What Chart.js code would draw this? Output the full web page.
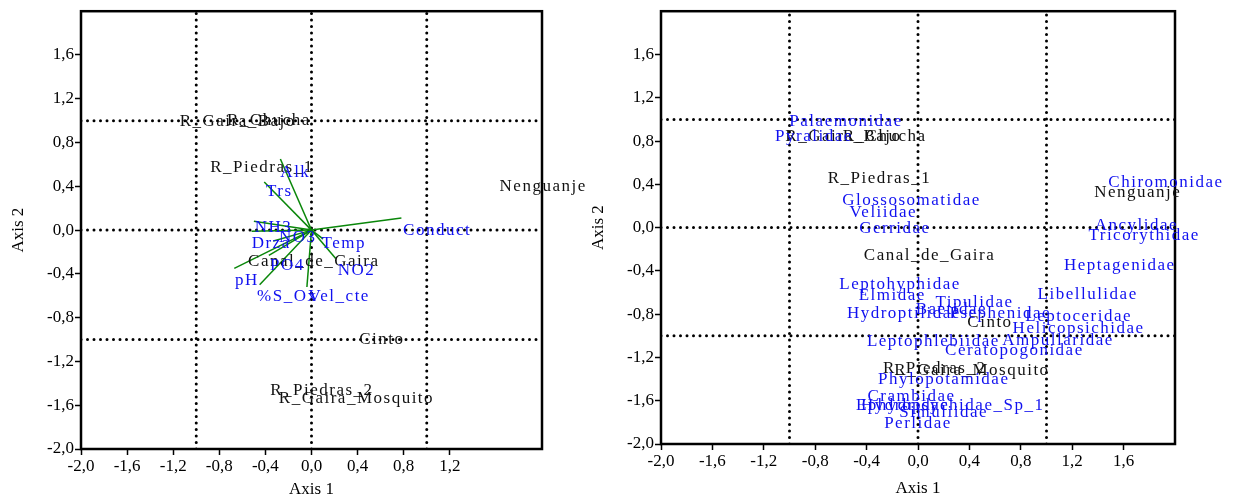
<!DOCTYPE html>
<html>
<head>
<meta charset="utf-8">
<script src="https://cdn.jsdelivr.net/npm/chart.js@4.4.0/dist/chart.umd.min.js"></script>
<style>
  body { margin: 0; background: #fff; }
  canvas { position: absolute; top: 0; }
  #left { left: 0; }
  #right { left: 580px; }
</style>
</head>
<body>
<canvas id="left" width="600" height="504"></canvas>
<canvas id="right" width="654" height="504"></canvas>
<script>
// axis ticks (both panels)
const yTickValues = [-2.0, -1.6, -1.2, -0.8, -0.4, 0.0, 0.4, 0.8, 1.2, 1.6];
const yTickLabels = ['-2,0', '-1,6', '-1,2', '-0,8', '-0,4', '0,0', '0,4', '0,8', '1,2', '1,6'];
const leftXTickValues = [-2.0, -1.6, -1.2, -0.8, -0.4, 0.0, 0.4, 0.8, 1.2];
const leftXTickLabels = ['-2,0', '-1,6', '-1,2', '-0,8', '-0,4', '0,0', '0,4', '0,8', '1,2'];
const rightXTickValues = [-2.0, -1.6, -1.2, -0.8, -0.4, 0.0, 0.4, 0.8, 1.2, 1.6];
const rightXTickLabels = ['-2,0', '-1,6', '-1,2', '-0,8', '-0,4', '0,0', '0,4', '0,8', '1,2', '1,6'];
const refLines = [-1, 0, 1];

// left panel: sites + environmental vectors
const siteNames = ['R_Gaira_Bajo', 'R_Chucha', 'R_Piedras_1', 'Nenguanje', 'Canal_de_Gaira', 'Cinto', 'R_Piedras_2', 'R_Gaira_Mosquito'];
const leftSiteX = [-0.64, -0.37, -0.43, 2.01, 0.02, 0.61, 0.09, 0.39];
const leftSiteY = [0.99, 1.00, 0.57, 0.40, -0.29, -1.00, -1.47, -1.54];

const envNames = ['Alk', 'Trs', 'Conduct', 'NH3', 'Drza', 'NO3', 'Temp', 'PO4', 'NO2', 'pH', '%S_Ox', 'Vel_cte'];
const envLabelX = [-0.14, -0.28, 1.09, -0.33, -0.35, -0.12, 0.28, -0.21, 0.39, -0.56, -0.21, 0.24];
const envLabelY = [0.53, 0.35, 0.00, 0.02, -0.12, -0.07, -0.12, -0.32, -0.37, -0.46, -0.61, -0.61];
const envTipX = [-0.27, -0.41, 0.78, -0.50, -0.52, -0.33, 0.10, -0.37, 0.21, -0.67, -0.45, -0.04];
const envTipY = [0.65, 0.44, 0.11, 0.08, -0.01, -0.10, -0.08, -0.23, -0.26, -0.35, -0.50, -0.52];

// right panel: sites + taxa
const rightSiteX = [-0.58, -0.26, -0.30, 1.71, 0.09, 0.56, 0.13, 0.42];
const rightSiteY = [0.84, 0.84, 0.45, 0.32, -0.26, -0.88, -1.30, -1.32];

const taxaNames = ['Palaemonidae', 'Pyralidae', 'Glossosomatidae', 'Veliidae', 'Gerridae', 'Chiromonidae',
  'Ancylidae', 'Tricorythidae', 'Heptagenidae', 'Leptohyphidae', 'Elmidae', 'Tipulidae', 'Libellulidae',
  'Hydroptilidae', 'Baetidae', 'Psephenidae', 'Leptoceridae', 'Helicopsichidae', 'Leptophlebiidae',
  'Ampullaridae', 'Ceratopogonidae', 'Phylopotamidae', 'Crambidae', 'Ephydridae', 'Hydropsychidae_Sp_1',
  'Simuliidae', 'Perlidae'];
const taxaX = [-0.56, -0.81, -0.05, -0.27, -0.18, 1.93, 1.70, 1.76, 1.57, -0.14, -0.20, 0.44, 1.32,
  -0.11, 0.26, 0.64, 1.25, 1.25, 0.12, 1.09, 0.75, 0.20, -0.05, -0.12, 0.27, 0.20, 0.00];
const taxaY = [0.98, 0.84, 0.25, 0.14, -0.01, 0.42, 0.02, -0.07, -0.35, -0.53, -0.63, -0.69, -0.62,
  -0.79, -0.76, -0.79, -0.82, -0.93, -1.05, -1.04, -1.14, -1.40, -1.56, -1.64, -1.64, -1.71, -1.81];

const FONT = 'Liberation Serif, Times New Roman, serif';
const BLUE = '#1010f0';
const BLACK = '#111111';
const GREEN = '#0a870a';

function pts(xs, ys) {
  return xs.map((x, i) => ({ x: x, y: ys[i] }));
}

function refLineSets() {
  const sets = [];
  refLines.forEach(v => {
    sets.push({ data: [{ x: -2, y: v }, { x: 2, y: v }] });
    sets.push({ data: [{ x: v, y: -2 }, { x: v, y: 2 }] });
  });
  return sets.map(s => Object.assign(s, {
    type: 'line', showLine: true, borderColor: '#000', borderWidth: 3,
    borderDash: [0, 6.5], borderCapStyle: 'round', pointRadius: 0, order: 5
  }));
}

// draws the text labels of datasets that carry a "names" list, plus the frame
const labelPlugin = {
  id: 'labels',
  afterDatasetsDraw(chart) {
    const ctx = chart.ctx;
    const a = chart.chartArea;
    ctx.save();
    ctx.strokeStyle = '#000';
    ctx.lineWidth = 2.5;
    ctx.strokeRect(a.left, a.top, a.right - a.left, a.bottom - a.top);
    ctx.font = '17px ' + FONT;
    ctx.letterSpacing = '1.5px';
    ctx.textAlign = 'center';
    ctx.textBaseline = 'middle';
    chart.data.datasets.forEach((ds, i) => {
      if (!ds.names) return;
      ctx.fillStyle = ds.textColor;
      chart.getDatasetMeta(i).data.forEach((el, j) => {
        ctx.fillText(ds.names[j], el.x, el.y);
      });
    });
    ctx.restore();
  }
};

function axes(xVals, xLabels, axisHeight, xTitlePad) {
  const grid = { drawOnChartArea: false, drawTicks: true, tickLength: 6, tickColor: '#000', tickWidth: 1.5 };
  return {
    x: {
      type: 'linear', min: -2, max: 2,
      border: { display: false },
      grid: grid,
      afterBuildTicks: s => { s.ticks = xVals.map(v => ({ value: v })); },
      afterFit: s => { s.height = axisHeight; },
      ticks: {
        color: '#000', padding: 1, maxRotation: 0, autoSkip: false,
        font: { family: FONT, size: 17 },
        callback: (v, i) => xLabels[i]
      },
      title: { display: true, text: 'Axis 1', color: '#000', font: { family: FONT, size: 17 }, padding: { top: 0, bottom: xTitlePad } }
    },
    y: {
      type: 'linear', min: -2, max: 2,
      border: { display: false },
      grid: grid,
      afterBuildTicks: s => { s.ticks = yTickValues.map(v => ({ value: v })); },
      afterFit: s => { s.width = 81; },
      ticks: {
        color: '#000', padding: 1, autoSkip: false,
        font: { family: FONT, size: 17 },
        callback: (v, i) => yTickLabels[i]
      },
      title: { display: true, text: 'Axis 2', color: '#000', font: { family: FONT, size: 17 }, padding: { top: 8, bottom: 0 } }
    }
  };
}

const baseOpts = {
  responsive: false,
  animation: false,
  plugins: { legend: { display: false }, tooltip: { enabled: false } }
};

// left chart
const envVectors = envNames.map((n, i) => ({
  type: 'line', showLine: true, borderColor: GREEN, borderWidth: 1.5, pointRadius: 0, order: 2,
  data: [{ x: 0, y: 0 }, { x: envTipX[i], y: envTipY[i] }]
}));

new Chart(document.getElementById('left').getContext('2d'), {
  type: 'scatter',
  data: {
    datasets: refLineSets().concat(envVectors).concat([
      { names: siteNames, textColor: BLACK, data: pts(leftSiteX, leftSiteY), pointRadius: 0 },
      { names: envNames, textColor: BLUE, data: pts(envLabelX, envLabelY), pointRadius: 0 }
    ])
  },
  options: Object.assign({}, baseOpts, {
    layout: { padding: { left: 0, right: 58, top: 11, bottom: 0 } },
    scales: axes(leftXTickValues, leftXTickLabels, 55, 4)
  }),
  plugins: [labelPlugin]
});

// right chart
new Chart(document.getElementById('right').getContext('2d'), {
  type: 'scatter',
  data: {
    datasets: refLineSets().concat([
      { names: siteNames, textColor: BLACK, data: pts(rightSiteX, rightSiteY), pointRadius: 0 },
      { names: taxaNames, textColor: BLUE, data: pts(taxaX, taxaY), pointRadius: 0 }
    ])
  },
  options: Object.assign({}, baseOpts, {
    layout: { padding: { left: 0, right: 59, top: 5, bottom: 0 } },
    scales: axes(rightXTickValues, rightXTickLabels, 60, 5)
  }),
  plugins: [labelPlugin]
});
</script>
</body>
</html>
